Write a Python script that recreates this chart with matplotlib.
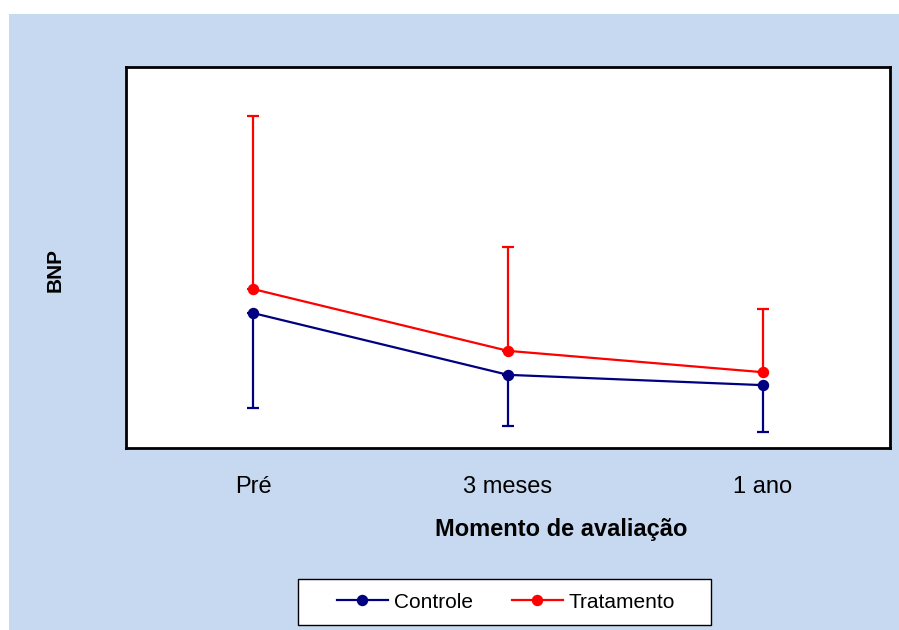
import matplotlib
matplotlib.use("Agg")
import matplotlib.pyplot as plt
from matplotlib.patches import Rectangle
from matplotlib.lines import Line2D
import numpy as np

plt.rcParams['font.family'] = ['Liberation Sans', 'DejaVu Sans']

categories = ["Pré", "3 meses", "1 ano"]
controle_mean = [35.4, 19.2, 16.5]
controle_err_low = [24.9, 13.4, 12.3]
tratamento_mean = [41.7, 25.5, 19.9]
tratamento_err_up = [45.4, 27.3, 16.6]
series_names = ["Controle", "Tratamento"]
series_colors = ["#000080", "#FF0000"]

W, H = 899, 630
fig = plt.figure(figsize=(W/100, H/100), dpi=100)
fig.patch.set_facecolor("white")
fig.add_artist(Rectangle((9/W, 0), 1 - 9/W, 1 - 14/H, transform=fig.transFigure,
                         facecolor="#C6D9F0", edgecolor="none", zorder=-5))

ax = fig.add_axes([126/W, 1 - 448/H, (890 - 126)/W, (448 - 67)/H])
ax.set_zorder(2)
ax.set_facecolor("white")
x = np.arange(len(categories))

lw = 1.6
ax.errorbar(x, controle_mean, yerr=[controle_err_low, [0]*3], color=series_colors[0],
            marker="o", markersize=7.2, linewidth=lw, elinewidth=lw, capsize=4.5,
            capthick=lw, zorder=3)
ax.errorbar(x, tratamento_mean, yerr=[[0]*3, tratamento_err_up], color=series_colors[1],
            marker="o", markersize=7.2, linewidth=lw, elinewidth=lw, capsize=4.5,
            capthick=lw, zorder=3)

ax.set_xlim(-0.5, 2.5)
ax.set_ylim(0, 100)
ax.set_xticks(x)
ax.set_xticklabels(categories, fontsize=17)
ax.set_yticks([])
ax.tick_params(axis="x", length=0, pad=20.5)
for s in ax.spines.values():
    s.set_linewidth(2)
    s.set_color("black")

fig.text(561/W, 1 - 536/H, "Momento de avaliação", fontsize=17, fontweight="bold",
         ha="center", va="baseline")
fig.text(55/W, 1 - 270/H, "BNP", rotation=90, fontsize=15, fontweight="bold",
         ha="center", va="center")

# legend box
fig.add_artist(Rectangle((298/W, 1 - 625/H), (711 - 298)/W, (625 - 579)/H,
                         transform=fig.transFigure, facecolor="white",
                         edgecolor="black", linewidth=1.0, zorder=3))
handles = [Line2D([], [], color=c, marker="o", markersize=7.2, linewidth=lw)
           for c in series_colors]
leg = fig.legend(handles, series_names, loc="center", bbox_to_anchor=(506/W, 1 - 602/H),
                 ncol=2, fontsize=15, frameon=False, handlelength=2.45,
                 columnspacing=1.85, handletextpad=0.3, borderpad=0.2)
leg.set_zorder(4)

fig.savefig("out.png", dpi=100)
